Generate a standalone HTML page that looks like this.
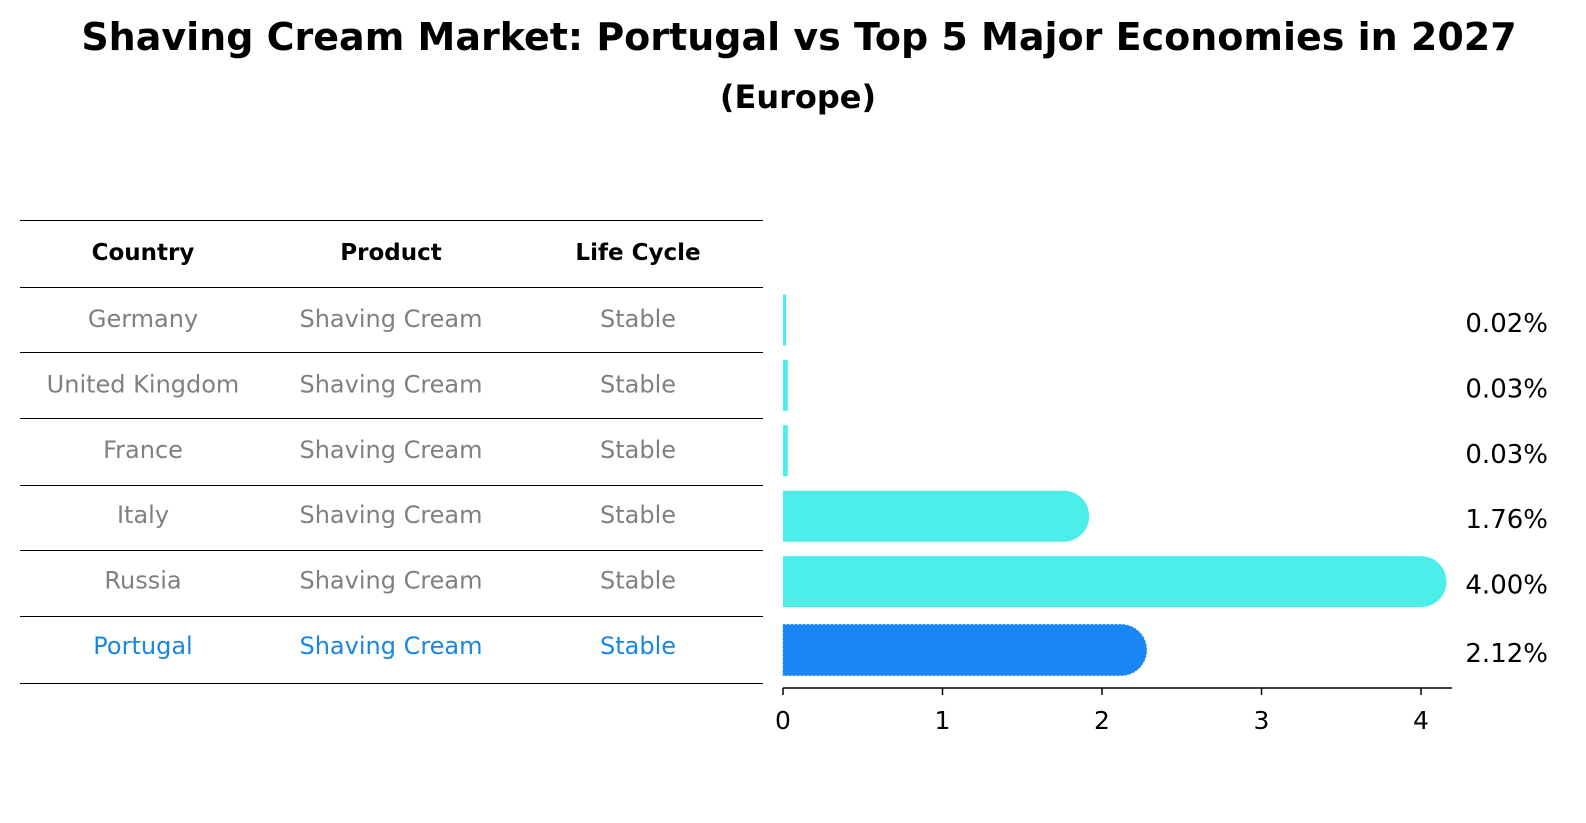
<!DOCTYPE html>
<html><head><meta charset="utf-8"><style>
html,body{margin:0;padding:0;background:#fff;overflow:hidden;width:1586px;height:823px;}
svg{display:block;}
</style></head><body>
<svg width="1586" height="823" xmlns="http://www.w3.org/2000/svg" font-family="DejaVu Sans, Liberation Sans, sans-serif">
<text x="799" y="50" text-anchor="middle" font-size="38" font-weight="bold">Shaving Cream Market: Portugal vs Top 5 Major Economies in 2027</text>
<text x="798" y="108" text-anchor="middle" font-size="32" font-weight="bold">(Europe)</text>
<g id="table"></g>
<g id="bars"></g>
</svg>
<script>
const countries=["Germany","United Kingdom","France","Italy","Russia","Portugal"];
const products=["Shaving Cream","Shaving Cream","Shaving Cream","Shaving Cream","Shaving Cream","Shaving Cream"];
const lifeCycles=["Stable","Stable","Stable","Stable","Stable","Stable"];
const values=[0.02,0.03,0.03,1.76,4.00,2.12];
const valueLabels=["0.02%","0.03%","0.03%","1.76%","4.00%","2.12%"];
const xTicks=[0,1,2,3,4];
const NS="http://www.w3.org/2000/svg";
function mk(t,a,p){const e=document.createElementNS(NS,t);for(const k in a)e.setAttribute(k,a[k]);p.appendChild(e);return e;}
const tbl=document.getElementById('table');
const lineYs=[220,287,352,418,485,550,616,683];
lineYs.forEach(y=>{const l=mk('line',{x1:20,x2:763,y1:y+0.5,y2:y+0.5,stroke:'#000','stroke-width':1},tbl);

});
const colX=[143,391,638];
["Country","Product","Life Cycle"].forEach((h,i)=>{const t=mk('text',{x:colX[i],y:260,'text-anchor':'middle','font-size':23,'font-weight':'bold'},tbl);t.textContent=h;

});
const rowY=i=>320+i*65.4;
countries.forEach((c,i)=>{const col=i===5?'#1a86e0':'#808080';
[c,products[i],lifeCycles[i]].forEach((v,j)=>{const t=mk('text',{x:colX[j],y:rowY(i)+7,'text-anchor':'middle','font-size':24,fill:col},tbl);t.textContent=v;

});});
const g=document.getElementById('bars');
const x0=783,scale=159.5,xs=v=>x0+v*scale,bh=51;
values.forEach((v,i)=>{const cy=rowY(i)+(i===5?3:0),y=cy-bh/2;const w=xs(v)-x0;const r=bh/2;
const col=i===5?'#1a86f5':'#4beee8';
let d;
if(w<6){d=`M${x0},${y}h${Math.max(w,3)}v${bh}h${-Math.max(w,3)}Z`;}
else d=`M${x0},${y}H${x0+w}A${r},${r} 0 0 1 ${x0+w},${y+bh}H${x0}Z`;
const p=mk('path',{d:d,fill:col},g);
if(i===5){p.setAttribute('stroke','#3a8fe0');p.setAttribute('stroke-dasharray','2,2');}


const t=mk('text',{x:1548,y:cy+12,'text-anchor':'end','font-size':26},g);t.textContent=valueLabels[i];

});
const ax=mk('line',{x1:x0,x2:1452,y1:688,y2:688,stroke:'#000','stroke-width':1.5},g);


xTicks.forEach(v=>{const l=mk('line',{x1:xs(v),x2:xs(v),y1:688,y2:695,stroke:'#000','stroke-width':1.5},g);


const t=mk('text',{x:xs(v),y:729,'text-anchor':'middle','font-size':25},g);t.textContent=v;

});
</script>
</body></html>
